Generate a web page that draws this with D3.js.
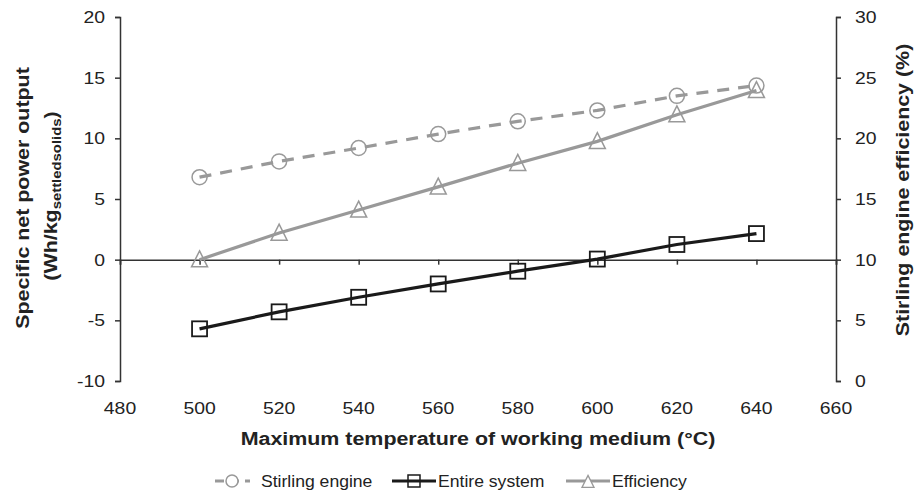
<!DOCTYPE html>
<html><head><meta charset="utf-8">
<script src="https://cdn.jsdelivr.net/npm/d3@7"></script>
<style>body{margin:0;background:#fff}svg{display:block;font-family:"Liberation Sans",Arial,sans-serif}</style>
</head><body><svg id="c" width="914" height="494"></svg>
<script>
const temps = [500,520,540,560,580,600,620,640];
const stirling = [6.8,8.1,9.2,10.35,11.4,12.3,13.5,14.35];
const entire = [-5.7,-4.3,-3.1,-2.0,-0.95,0.05,1.25,2.15];
const efficiency = [10.0,12.2,14.1,16.0,17.95,19.75,21.95,23.95];
const xTicks = [480,500,520,540,560,580,600,620,640,660];
const yLeftTicks = [-10,-5,0,5,10,15,20];
const yRightTicks = [0,5,10,15,20,25,30];

const svg = d3.select("#c");
const x = d3.scaleLinear().domain([480,660]).range([120,836]);
const yL = d3.scaleLinear().domain([-10,20]).range([381,17]);
const yR = d3.scaleLinear().domain([0,30]).range([381,17]);
const gray = "#999999", dark = "#1a1a1a", axisC = "#333", txtC = "#222";
const SX = 1.19;

function txt(g, tx, ty, str, o = {}) {
  const t = g.append("text")
    .attr("transform", `translate(${tx},${ty}) rotate(${o.rot || 0}) scale(${o.sx || SX},1)`)
    .attr("text-anchor", o.anchor || "start")
    .attr("font-size", o.size || 16.3)
    .attr("font-weight", o.bold ? "bold" : "normal")
    .attr("fill", txtC);
  if (str !== null) t.text(str);
  return t;
}

// axes
const gL = svg.append("g").attr("transform","translate(120,0)")
  .call(d3.axisLeft(yL).tickValues(yLeftTicks).tickSizeOuter(0).tickSize(5).tickFormat(""));
const gR = svg.append("g").attr("transform","translate(836,0)")
  .call(d3.axisRight(yR).tickValues(yRightTicks).tickSizeOuter(0).tickSize(5).tickFormat(""));
const gX = svg.append("g").attr("transform",`translate(0,${yL(0)})`)
  .call(d3.axisBottom(x).tickValues(xTicks).tickSizeOuter(0).tickSize(5).tickFormat(""));
[gL,gR,gX].forEach(g=>{
  g.selectAll("path,line").attr("stroke",axisC).attr("stroke-width",1.5);
});
// tick labels
const labs = svg.append("g");
yLeftTicks.forEach(d => txt(labs, 105, yL(d) + 6, String(d), {anchor: "end"}));
yRightTicks.forEach(d => txt(labs, 855, yR(d) + 6, String(d)));
xTicks.forEach(d => txt(labs, x(d), 414, String(d), {anchor: "middle"}));

// lines
const line = (arr, ys) => d3.line().x((d,i)=>x(temps[i])).y(d=>ys(d))(arr);
svg.append("path").attr("d",line(stirling,yL)).attr("fill","none")
  .attr("stroke",gray).attr("stroke-width",3.2).attr("stroke-dasharray","12,9");
svg.append("path").attr("d",line(efficiency,yR)).attr("fill","none")
  .attr("stroke",gray).attr("stroke-width",3.2);
svg.append("path").attr("d",line(entire,yL)).attr("fill","none")
  .attr("stroke",dark).attr("stroke-width",3.2);

// markers
svg.append("g").selectAll("circle").data(stirling).join("circle")
  .attr("cx",(d,i)=>x(temps[i])).attr("cy",d=>yL(d)).attr("r",7.5)
  .attr("fill","none").attr("stroke",gray).attr("stroke-width",1.5);
svg.append("g").selectAll("rect").data(entire).join("rect")
  .attr("x",(d,i)=>x(temps[i])-7.5).attr("y",d=>yL(d)-7.5).attr("width",15).attr("height",15)
  .attr("fill","none").attr("stroke",dark).attr("stroke-width",1.8);
const tri = (cx,cy,s)=>`M${cx},${cy-s*0.55}L${cx+s/2},${cy+s*0.45}L${cx-s/2},${cy+s*0.45}Z`;
svg.append("g").selectAll("path").data(efficiency).join("path")
  .attr("d",(d,i)=>tri(x(temps[i]),yR(d),16))
  .attr("fill","none").attr("stroke",gray).attr("stroke-width",1.5);

// axis titles
const titles = svg.append("g");
txt(titles, 29, 198, "Specific net power output", {rot: -90, anchor: "middle", size: 18, bold: true});
const t2 = txt(titles, 57, 196, null, {rot: -90, anchor: "middle", size: 18, bold: true});
t2.append("tspan").text("(Wh/kg");
t2.append("tspan").attr("font-size",12.5).attr("dy",4).text("settledsolids");
t2.append("tspan").attr("dy",-4).text(")");
txt(titles, 909, 190, "Stirling engine efficiency (%)", {rot: -90, anchor: "middle", size: 18, bold: true});
txt(titles, 478, 445, "Maximum temperature of working medium (°C)", {anchor: "middle", size: 18, bold: true});

// legend
const ly = 481;
const leg = svg.append("g");
const lo = {size: 16, sx: 1.1};
leg.append("line").attr("x1",215).attr("x2",250).attr("y1",ly).attr("y2",ly)
  .attr("stroke",gray).attr("stroke-width",3.2).attr("stroke-dasharray","9,6");
leg.append("circle").attr("cx",232).attr("cy",ly).attr("r",6).attr("fill","#fff")
  .attr("stroke",gray).attr("stroke-width",1.5);
txt(leg, 261, ly + 6, "Stirling engine", lo);
leg.append("line").attr("x1",392).attr("x2",436).attr("y1",ly).attr("y2",ly)
  .attr("stroke",dark).attr("stroke-width",3.2);
leg.append("rect").attr("x",408).attr("y",ly-6).attr("width",12).attr("height",12)
  .attr("fill","none").attr("stroke",dark).attr("stroke-width",1.5);
txt(leg, 438, ly + 6, "Entire system", lo);
leg.append("line").attr("x1",566).attr("x2",610).attr("y1",ly).attr("y2",ly)
  .attr("stroke",gray).attr("stroke-width",3.2);
leg.append("path").attr("d",tri(588,ly+1,12)).attr("fill","#fff")
  .attr("stroke",gray).attr("stroke-width",1.3);
txt(leg, 612, ly + 6, "Efficiency", lo);
</script></body></html>
